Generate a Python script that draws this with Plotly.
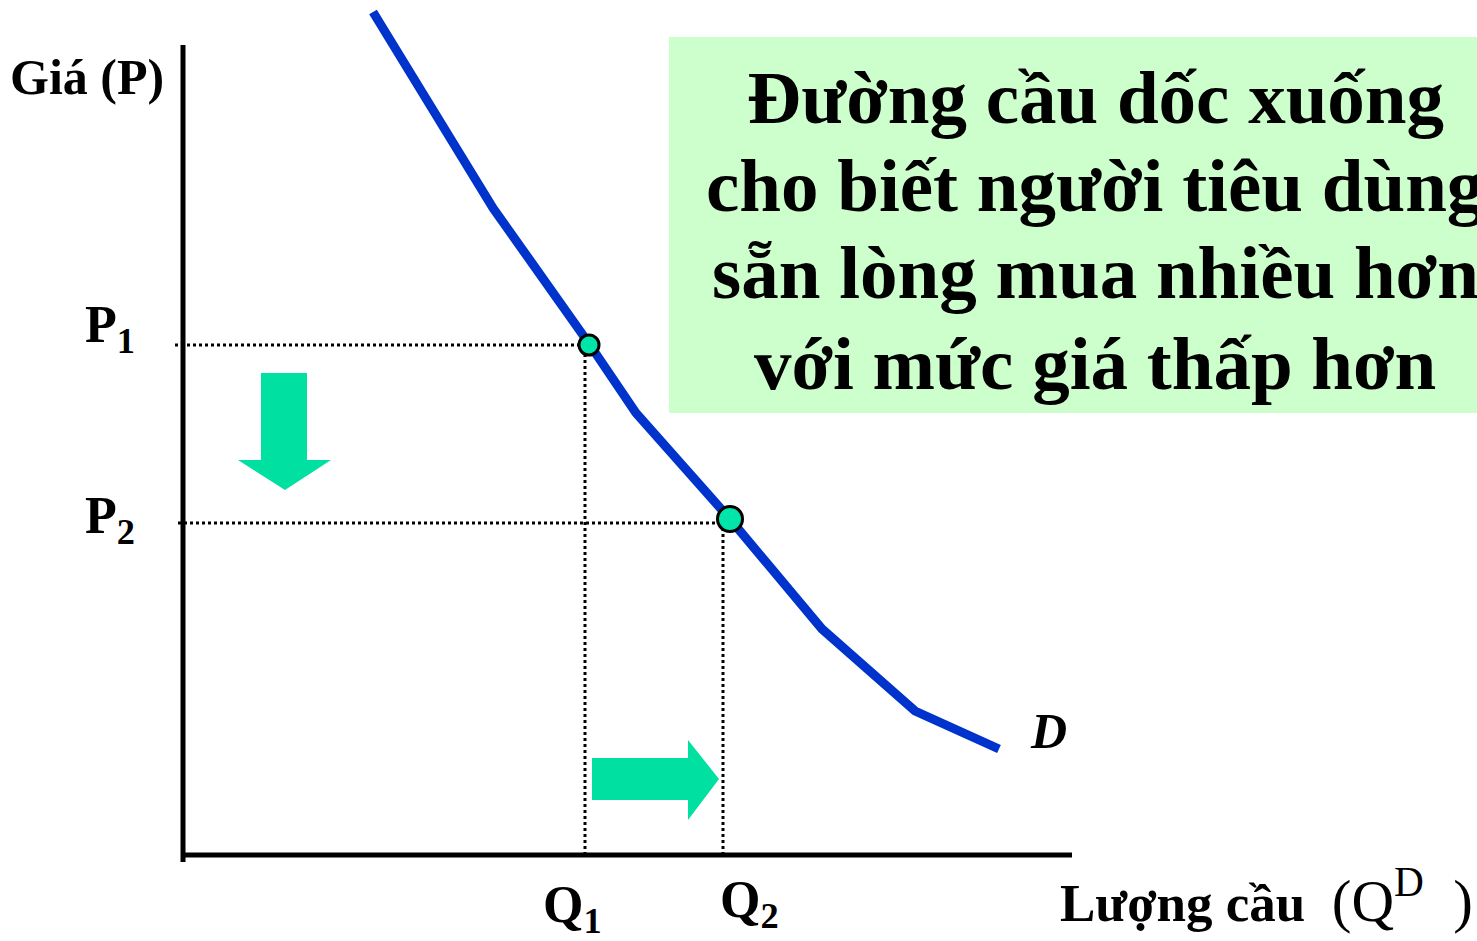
import plotly.graph_objects as go

# ---- data (quantity / price units) ----
Q_curve = [1.90, 3.10, 4.07, 4.53, 5.47, 6.39, 7.32, 8.16]
P_curve = [8.43, 6.47, 5.10, 4.42, 3.36, 2.26, 1.44, 1.06]

pts_Q = [4.06, 5.47]
pts_P = [5.10, 3.36]
pts_size = [20, 25]

Q_levels = [4.02, 5.40]
P_levels = [5.10, 3.32]
P_line_start = [-0.08, -0.05]

y_axis_top = 8.10
x_axis_end = 8.89

down_arrow_x = [0.78, 1.24, 1.24, 1.48, 1.02, 0.55, 0.78, 0.78]
down_arrow_y = [4.82, 4.82, 3.95, 3.95, 3.65, 3.95, 3.95, 4.82]
right_arrow_x = [4.09, 5.05, 5.05, 5.36, 5.05, 5.05, 4.09, 4.09]
right_arrow_y = [0.97, 0.97, 1.15, 0.76, 0.35, 0.55, 0.55, 0.97]

box_x = [4.86, 13.0]
box_y = [4.42, 8.18]
box_lines = ["Đường cầu dốc xuống", "cho biết người tiêu dùng",
             "sẵn lòng mua nhiều hơn", "với mức giá thấp hơn"]
box_line_y = [7.58, 6.70, 5.83, 4.92]

FONT = "Liberation Serif"
ARROW = "#00E0A0"
BLUE = "#0033CC"

fig = go.Figure()

# green text box
fig.add_shape(type="rect", x0=box_x[0], x1=box_x[1], y0=box_y[0], y1=box_y[1],
              xref="x", yref="y", fillcolor="#CCFFCC", line=dict(width=0), layer="below")

# axes
fig.add_trace(go.Scatter(x=[0, 0], y=[-0.07, y_axis_top], mode="lines",
                         line=dict(color="black", width=5), hoverinfo="skip"))
fig.add_trace(go.Scatter(x=[0, x_axis_end], y=[0, 0], mode="lines",
                         line=dict(color="black", width=5), hoverinfo="skip"))

# dotted guide lines
for i in range(2):
    fig.add_trace(go.Scatter(x=[P_line_start[i], pts_Q[i]], y=[P_levels[i], P_levels[i]], mode="lines",
                             line=dict(color="black", width=3, dash="dot"), hoverinfo="skip"))
    fig.add_trace(go.Scatter(x=[Q_levels[i], Q_levels[i]], y=[0, pts_P[i]], mode="lines",
                             line=dict(color="black", width=3, dash="dot"), hoverinfo="skip"))

# demand curve
fig.add_trace(go.Scatter(x=Q_curve, y=P_curve, mode="lines",
                         line=dict(color=BLUE, width=9), hoverinfo="skip"))

# points
fig.add_trace(go.Scatter(x=pts_Q, y=pts_P, mode="markers",
                         marker=dict(color="#00E6AA", size=pts_size, opacity=1,
                                     line=dict(color="black", width=3)), hoverinfo="skip"))

# arrows
fig.add_trace(go.Scatter(x=down_arrow_x, y=down_arrow_y, mode="lines", fill="toself",
                         fillcolor=ARROW, line=dict(width=0, color=ARROW), hoverinfo="skip"))
fig.add_trace(go.Scatter(x=right_arrow_x, y=right_arrow_y, mode="lines", fill="toself",
                         fillcolor=ARROW, line=dict(width=0, color=ARROW), hoverinfo="skip"))

def ann(text, x, y, size, xanchor="left", yanchor="middle"):
    fig.add_annotation(text=text, x=x, y=y, xref="x", yref="y", showarrow=False,
                       xanchor=xanchor, yanchor=yanchor,
                       font=dict(family=FONT, size=size, color="black"))

ann("<b>Giá (P)</b>", -1.75, 7.78, 50)
ann("<b>P<sub>1</sub></b>", -1.00, 5.27, 52)
ann("<b>P<sub>2</sub></b>", -1.00, 3.36, 52)
ann("<b>Q<sub>1</sub></b>", 3.58, -0.53, 52)
ann("<b>Q<sub>2</sub></b>", 5.35, -0.48, 52)
ann("<b>Lượng cầu</b>\u00a0\u00a0<span style='font-size:59px'>(Q<sup>D</sup>\u00a0\u00a0)</span>",
    8.75, -0.41, 53)
ann("<b><i>D</i></b>", 8.45, 1.24, 50)

for line, ly in zip(box_lines, box_line_y):
    ann("<b>" + line + "</b>", 9.12, ly, 75, xanchor="center")

fig.update_layout(
    width=1477, height=941, autosize=False,
    margin=dict(l=0, r=0, t=0, b=0),
    paper_bgcolor="white", plot_bgcolor="white",
    showlegend=False,
    xaxis=dict(range=[-1.83, 12.94], visible=False, fixedrange=True),
    yaxis=dict(range=[-0.86, 8.55], visible=False, fixedrange=True),
)

fig.write_html("out.html", config={"displayModeBar": False},
               post_script="document.body.style.margin='0';document.body.style.overflow='hidden';")
